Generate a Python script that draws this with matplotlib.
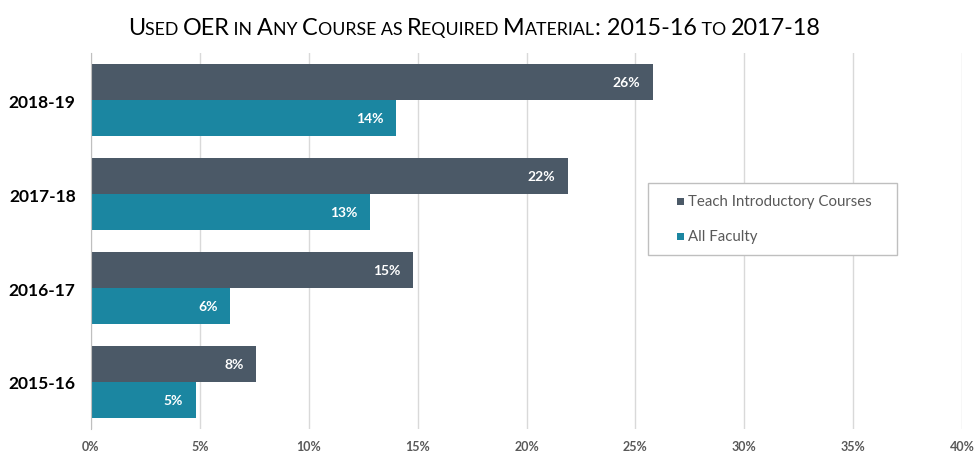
import matplotlib
matplotlib.use("Agg")
import matplotlib.pyplot as plt
from matplotlib.patches import Rectangle
import numpy as np

# data
years = ["2015-16", "2016-17", "2017-18", "2018-19"]
intro_courses = [7.6, 14.8, 21.9, 25.8]
all_faculty = [4.8, 6.4, 12.8, 14.0]
series_names = ["Teach Introductory Courses", "All Faculty"]
xticks = [0, 5, 10, 15, 20, 25, 30, 35, 40]

dark = "#4B5967"
teal = "#1B86A1"
gray_txt = "#595959"

plt.rcParams['font.family'] = ['Lato', 'DejaVu Sans']

W, H = 979, 452
fig = plt.figure(figsize=(W / 100, H / 100), dpi=100)
ax = fig.add_axes([91 / W, 22 / H, 871 / W, 376 / H])

y = np.arange(len(years))
h = 0.383
ax.barh(y + h / 2, intro_courses, height=h, color=dark)
ax.barh(y - h / 2, all_faculty, height=h, color=teal)

# value labels inside the bar ends
for off, vals in [(h / 2, intro_courses), (-h / 2, all_faculty)]:
    for yi, v in zip(y, vals):
        ax.annotate(f"{round(v):d}%", (v, yi + off), xytext=(-9, 0),
                    textcoords='offset points', ha='right', va='center',
                    color='white', fontweight='bold', fontsize=10)

ax.set_xlim(0, 40)
ax.set_ylim(-0.5, len(years) - 0.5)
ax.set_xticks(xticks)
ax.set_xticklabels([f"{t}%" for t in xticks], fontsize=9, fontweight='bold',
                   color=gray_txt)
ax.set_yticks(y)
ax.set_yticklabels(years, fontsize=12.5, fontweight='bold', color='black')
ax.tick_params(axis='both', length=0)
ax.tick_params(axis='x', pad=8)
ax.tick_params(axis='y', pad=11)
ax.xaxis.grid(True, color="#D9D9D9", linewidth=1)
ax.set_axisbelow(True)
for s in ['top', 'right', 'bottom']:
    ax.spines[s].set_visible(False)
ax.spines['left'].set_color("#BFBFBF")

# legend box drawn by hand (pixel layout of the reference)
fig.patches.append(Rectangle((648 / W, 1 - 256 / H), 249 / W, 72 / H,
                             transform=fig.transFigure, facecolor='white',
                             edgecolor="#BFBFBF", linewidth=1, zorder=5))
for name, col, py in zip(series_names, [dark, teal], [202, 237]):
    fig.patches.append(Rectangle((677 / W, 1 - (py + 3.5) / H), 7 / W, 7 / H,
                                 transform=fig.transFigure, facecolor=col,
                                 edgecolor='none', zorder=6))
    fig.text(688 / W, 1 - py / H, name, fontsize=10.8, color=gray_txt,
             va='center', ha='left', zorder=6)

# title in small caps, built from pieces
pieces = [("U", 1), ("SED ", 0), ("OER", 1), (" IN ", 0), ("A", 1), ("NY ", 0),
          ("C", 1), ("OURSE AS ", 0), ("R", 1), ("EQUIRED ", 0), ("M", 1),
          ("ATERIAL", 0), (": 2015-16", 1), (" TO ", 0), ("2017-18", 1)]
big, small = 16.8, 12.8
fig.canvas.draw()
r = fig.canvas.get_renderer()
texts = []
for s, cap in pieces:
    t = fig.text(0, 1 - 35 / H, s, fontsize=big if cap else small,
                 color='black', va='baseline', ha='left')
    texts.append(t)
widths = [t.get_window_extent(r).width for t in texts]
total = sum(widths)
x0 = 474 - total / 2
for t, w in zip(texts, widths):
    t.set_x(x0 / W)
    x0 += w

fig.savefig("out.png", dpi=100)
